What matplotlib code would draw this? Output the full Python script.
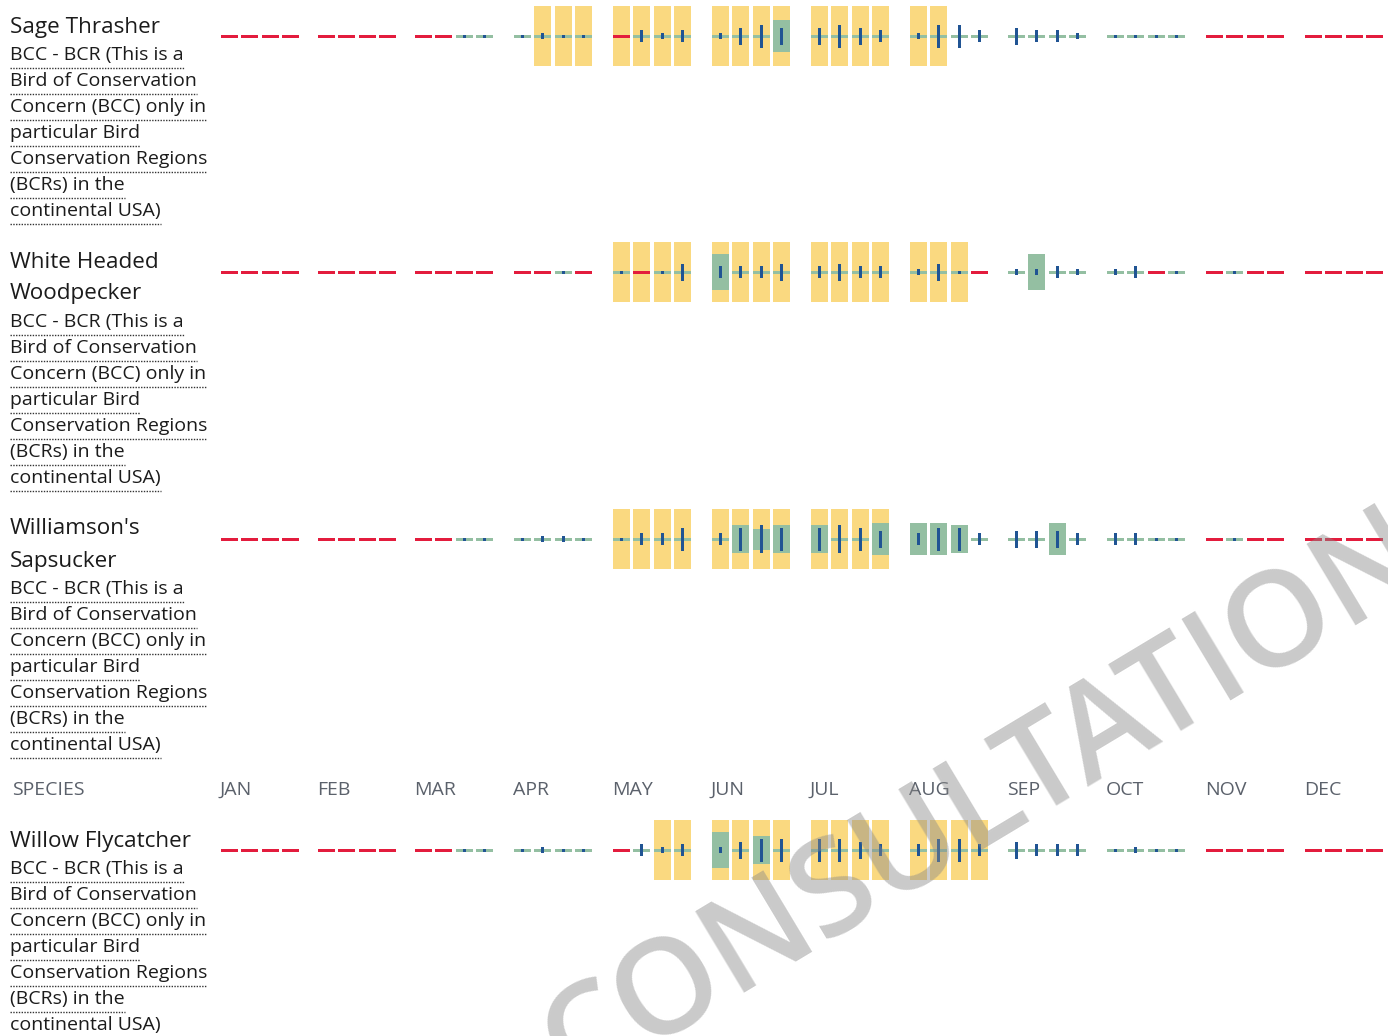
import numpy as np
import matplotlib
matplotlib.use("Agg")
import matplotlib.pyplot as plt

plt.rcParams['font.family'] = ['Open Sans', 'DejaVu Sans']

months = ['JAN', 'FEB', 'MAR', 'APR', 'MAY', 'JUN', 'JUL', 'AUG', 'SEP', 'OCT', 'NOV', 'DEC']

species = [["Sage Thrasher"],
           ["White Headed", "Woodpecker"],
           ["Williamson's", "Sapsucker"],
           ["Willow Flycatcher"]]
note = ["BCC - BCR (This is a", "Bird of Conservation", "Concern (BCC) only in",
        "particular Bird", "Conservation Regions", "(BCRs) in the", "continental USA)"]

# per week: r = no data (red), g = data (green line)
status = [
    "rrrr rrrr rrgg gggg rggg gggg gggg gggg gggg gggg rrrr rrrr",
    "rrrr rrrr rrrr rrgr grgg gggg gggg gggr gggg ggrg rgrr rrrr",
    "rrrr rrrr rrgg gggg gggg gggg gggg gggg gggg gggg rgrr rrrr",
    "rrrr rrrr rrgg gggg rggg gggg gggg gggg gggg gggg rrrr rrrr",
]
# breeding season (yellow)
breeding = [
    "0000 0000 0000 0111 1111 1111 1111 1100 0000 0000 0000 0000",
    "0000 0000 0000 0000 1111 1111 1111 1110 0000 0000 0000 0000",
    "0000 0000 0000 0000 1111 1111 1111 0000 0000 0000 0000 0000",
    "0000 0000 0000 0000 0011 1111 1111 1111 0000 0000 0000 0000",
]
# probability of presence (green box height)
presence = [
    [0]*12 + [0]*4 + [0]*4 + [0, 0, 0, 32] + [0]*4 + [0]*4 + [0]*4 + [0]*4 + [0]*8,
    [0]*12 + [0]*4 + [0]*4 + [36, 0, 0, 0] + [0]*4 + [0]*4 + [0, 36, 0, 0] + [0]*4 + [0]*8,
    [0]*12 + [0]*4 + [0]*4 + [0, 28, 21, 28] + [28, 0, 0, 32] + [32, 32, 28, 0] + [0, 0, 32, 0] + [0]*4 + [0]*8,
    [0]*12 + [0]*4 + [0]*4 + [36, 0, 28, 0] + [0]*4 + [0]*4 + [0]*4 + [0]*4 + [0]*8,
]
# survey effort (blue bar height)
effort = [
    [0]*8 + [0, 0, 3, 3] + [3, 6, 3, 3] + [0, 12, 6, 12] + [6, 17, 23, 17] + [17, 23, 17, 12]
    + [6, 23, 23, 12] + [17, 12, 12, 6] + [3, 3, 3, 3] + [0]*8,
    [0]*8 + [0, 0, 0, 0] + [0, 0, 3, 0] + [3, 0, 3, 17] + [12, 12, 12, 17] + [12, 17, 12, 12]
    + [6, 17, 3, 0] + [6, 6, 12, 6] + [6, 12, 0, 3] + [0, 3, 0, 0] + [0]*4,
    [0]*8 + [0, 0, 3, 3] + [3, 6, 6, 3] + [3, 12, 12, 23] + [12, 23, 28, 23] + [23, 28, 23, 17]
    + [12, 23, 23, 12] + [17, 17, 17, 12] + [12, 12, 3, 3] + [0, 3, 0, 0] + [0]*4,
    [0]*8 + [0, 0, 3, 3] + [3, 6, 3, 3] + [0, 12, 6, 12] + [6, 17, 23, 23] + [23, 23, 17, 12]
    + [12, 23, 23, 12] + [17, 12, 12, 12] + [3, 6, 3, 3] + [0]*8,
]

RED = '#e31c3d'
GREEN = '#94bfa2'
BLUE = '#205493'
YELLOW = '#fad980'
TEXT = '#1b1b1b'
GREY = '#5b616b'

W, H = 1388, 1036
fig = plt.figure(figsize=(W / 100, H / 100), dpi=100)
ax = fig.add_axes([0, 0, 1, 1])
ax.set_xlim(0, W)
ax.set_ylim(H, 0)
ax.axis('off')

# layout (pixels)
month_x = np.array([221, 318, 415, 514, 613, 712, 811, 910, 1008, 1107, 1206, 1305])
week_off = np.array([0, 20, 41, 61])
cell_w = 17
baselines = [36, 272, 539, 850]
label_tops = [27, 262, 529, 841]

weeks = np.arange(48)
xs = month_x[weeks // 4] + week_off[weeks % 4]

for i, base in enumerate(baselines):
    st = status[i].replace(' ', '')
    br = np.array([int(c) for c in breeding[i].replace(' ', '')])
    pr = np.array(presence[i])
    ef = np.array(effort[i])

    yb = br == 1
    ax.bar(xs[yb], 60, width=cell_w, bottom=base - 30, align='edge', color=YELLOW, lw=0, zorder=1)
    red = np.array([c == 'r' for c in st])
    ax.bar(xs[red], 3, width=cell_w, bottom=base - 1.5, align='edge', color=RED, lw=0, zorder=2)
    ax.bar(xs[~red], 3, width=cell_w, bottom=base - 1.5, align='edge', color=GREEN, lw=0, zorder=2)
    pb = pr > 0
    ax.bar(xs[pb], pr[pb], width=cell_w, bottom=base - pr[pb] / 2, align='edge', color=GREEN, lw=0, zorder=3)
    eb = ef > 0
    ax.bar(xs[eb] + cell_w / 2, ef[eb], width=2.2, bottom=base - ef[eb] / 2, align='center',
           color=BLUE, lw=0, zorder=4)

    # labels
    y = label_tops[i]
    for line in species[i]:
        ax.text(10, y, line, fontsize=16.2, color=TEXT, va='center', ha='left')
        y += 32
    y = y - 32 + 28
    for line in note:
        t = ax.text(10, y, line, fontsize=14, color=TEXT, va='center', ha='left')
        fig.canvas.draw()
        bb = t.get_window_extent()
        ax.plot([10, 10 + bb.width], [y + 13, y + 13], color='#333333', lw=1, ls=(0, (1, 1)))
        y += 26

ax.text(12, 790, 'SPECIES', fontsize=14, color=GREY, va='center', ha='left')
for m, name in enumerate(months):
    ax.text(month_x[m] - 1, 790, name, fontsize=14, color=GREY, va='center', ha='left')

ax.text(985, 803, 'CONSULTATION', fontsize=96, fontweight='semibold', color='#8a8a8a', alpha=0.45,
        rotation=31, ha='center', va='center', rotation_mode='anchor', zorder=10)

fig.savefig('out.png', dpi=100)
